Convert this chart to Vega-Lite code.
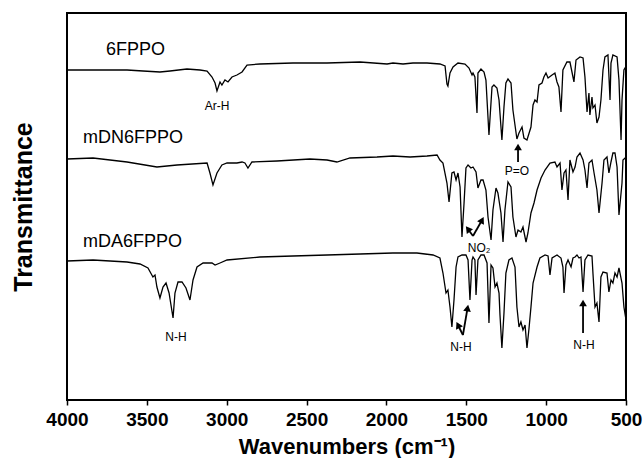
{
  "$schema": "https://vega.github.io/schema/vega-lite/v6.json",
  "width": 559,
  "height": 387,
  "autosize": {"type": "none"},
  "padding": {"left": 67, "top": 13, "right": 18, "bottom": 58},
  "background": "white",
  "config": {
    "view": {"stroke": "black", "strokeWidth": 2},
    "font": "Liberation Sans"
  },
  "datasets": {
    "spectra": [
      {"series": "6FPPO", "wn": 4000, "t": 330}, {"series": "6FPPO", "wn": 3837, "t": 330}, {"series": "6FPPO", "wn": 3624, "t": 330}, {"series": "6FPPO", "wn": 3524, "t": 329}, {"series": "6FPPO", "wn": 3418, "t": 328}, {"series": "6FPPO", "wn": 3355, "t": 329}, {"series": "6FPPO", "wn": 3249, "t": 331}, {"series": "6FPPO", "wn": 3167, "t": 330}, {"series": "6FPPO", "wn": 3123, "t": 329}, {"series": "6FPPO", "wn": 3092, "t": 323}, {"series": "6FPPO", "wn": 3073, "t": 317}, {"series": "6FPPO", "wn": 3061, "t": 309}, {"series": "6FPPO", "wn": 3042, "t": 318}, {"series": "6FPPO", "wn": 3030, "t": 315}, {"series": "6FPPO", "wn": 3011, "t": 320}, {"series": "6FPPO", "wn": 2992, "t": 318}, {"series": "6FPPO", "wn": 2967, "t": 323}, {"series": "6FPPO", "wn": 2936, "t": 325}, {"series": "6FPPO", "wn": 2904, "t": 328}, {"series": "6FPPO", "wn": 2873, "t": 335}, {"series": "6FPPO", "wn": 2792, "t": 336}, {"series": "6FPPO", "wn": 2585, "t": 337}, {"series": "6FPPO", "wn": 2372, "t": 337}, {"series": "6FPPO", "wn": 2165, "t": 338}, {"series": "6FPPO", "wn": 1996, "t": 336}, {"series": "6FPPO", "wn": 1959, "t": 337}, {"series": "6FPPO", "wn": 1896, "t": 336}, {"series": "6FPPO", "wn": 1834, "t": 337}, {"series": "6FPPO", "wn": 1746, "t": 337}, {"series": "6FPPO", "wn": 1665, "t": 336}, {"series": "6FPPO", "wn": 1633, "t": 334}, {"series": "6FPPO", "wn": 1621, "t": 316}, {"series": "6FPPO", "wn": 1615, "t": 314}, {"series": "6FPPO", "wn": 1602, "t": 327}, {"series": "6FPPO", "wn": 1583, "t": 333}, {"series": "6FPPO", "wn": 1552, "t": 337}, {"series": "6FPPO", "wn": 1508, "t": 336}, {"series": "6FPPO", "wn": 1483, "t": 332}, {"series": "6FPPO", "wn": 1464, "t": 325}, {"series": "6FPPO", "wn": 1458, "t": 327}, {"series": "6FPPO", "wn": 1446, "t": 323}, {"series": "6FPPO", "wn": 1433, "t": 287}, {"series": "6FPPO", "wn": 1427, "t": 327}, {"series": "6FPPO", "wn": 1408, "t": 331}, {"series": "6FPPO", "wn": 1389, "t": 328}, {"series": "6FPPO", "wn": 1377, "t": 320}, {"series": "6FPPO", "wn": 1358, "t": 265}, {"series": "6FPPO", "wn": 1339, "t": 313}, {"series": "6FPPO", "wn": 1327, "t": 315}, {"series": "6FPPO", "wn": 1308, "t": 312}, {"series": "6FPPO", "wn": 1295, "t": 300}, {"series": "6FPPO", "wn": 1277, "t": 260}, {"series": "6FPPO", "wn": 1264, "t": 293}, {"series": "6FPPO", "wn": 1252, "t": 317}, {"series": "6FPPO", "wn": 1239, "t": 321}, {"series": "6FPPO", "wn": 1220, "t": 317}, {"series": "6FPPO", "wn": 1208, "t": 290}, {"series": "6FPPO", "wn": 1183, "t": 261}, {"series": "6FPPO", "wn": 1170, "t": 267}, {"series": "6FPPO", "wn": 1151, "t": 273}, {"series": "6FPPO", "wn": 1139, "t": 262}, {"series": "6FPPO", "wn": 1120, "t": 260}, {"series": "6FPPO", "wn": 1095, "t": 273}, {"series": "6FPPO", "wn": 1082, "t": 295}, {"series": "6FPPO", "wn": 1070, "t": 300}, {"series": "6FPPO", "wn": 1057, "t": 298}, {"series": "6FPPO", "wn": 1045, "t": 315}, {"series": "6FPPO", "wn": 1026, "t": 317}, {"series": "6FPPO", "wn": 1014, "t": 323}, {"series": "6FPPO", "wn": 1001, "t": 327}, {"series": "6FPPO", "wn": 988, "t": 322}, {"series": "6FPPO", "wn": 963, "t": 325}, {"series": "6FPPO", "wn": 945, "t": 327}, {"series": "6FPPO", "wn": 932, "t": 318}, {"series": "6FPPO", "wn": 920, "t": 313}, {"series": "6FPPO", "wn": 907, "t": 288}, {"series": "6FPPO", "wn": 895, "t": 330}, {"series": "6FPPO", "wn": 870, "t": 338}, {"series": "6FPPO", "wn": 851, "t": 338}, {"series": "6FPPO", "wn": 832, "t": 323}, {"series": "6FPPO", "wn": 826, "t": 318}, {"series": "6FPPO", "wn": 813, "t": 340}, {"series": "6FPPO", "wn": 788, "t": 343}, {"series": "6FPPO", "wn": 769, "t": 342}, {"series": "6FPPO", "wn": 757, "t": 323}, {"series": "6FPPO", "wn": 744, "t": 288}, {"series": "6FPPO", "wn": 732, "t": 307}, {"series": "6FPPO", "wn": 726, "t": 285}, {"series": "6FPPO", "wn": 713, "t": 303}, {"series": "6FPPO", "wn": 707, "t": 292}, {"series": "6FPPO", "wn": 694, "t": 295}, {"series": "6FPPO", "wn": 682, "t": 277}, {"series": "6FPPO", "wn": 669, "t": 283}, {"series": "6FPPO", "wn": 657, "t": 300}, {"series": "6FPPO", "wn": 644, "t": 330}, {"series": "6FPPO", "wn": 632, "t": 343}, {"series": "6FPPO", "wn": 613, "t": 345}, {"series": "6FPPO", "wn": 600, "t": 300}, {"series": "6FPPO", "wn": 594, "t": 337}, {"series": "6FPPO", "wn": 582, "t": 345}, {"series": "6FPPO", "wn": 556, "t": 343}, {"series": "6FPPO", "wn": 544, "t": 320}, {"series": "6FPPO", "wn": 531, "t": 260}, {"series": "6FPPO", "wn": 525, "t": 300}, {"series": "6FPPO", "wn": 513, "t": 330}, {"series": "6FPPO", "wn": 506, "t": 332}, {"series": "6FPPO", "wn": 500, "t": 332},

      {"series": "mDN6FPPO", "wn": 4000, "t": 241}, {"series": "mDN6FPPO", "wn": 3837, "t": 242}, {"series": "mDN6FPPO", "wn": 3624, "t": 238}, {"series": "mDN6FPPO", "wn": 3437, "t": 233}, {"series": "mDN6FPPO", "wn": 3311, "t": 235}, {"series": "mDN6FPPO", "wn": 3123, "t": 237}, {"series": "mDN6FPPO", "wn": 3105, "t": 227}, {"series": "mDN6FPPO", "wn": 3086, "t": 215}, {"series": "mDN6FPPO", "wn": 3061, "t": 227}, {"series": "mDN6FPPO", "wn": 3030, "t": 235}, {"series": "mDN6FPPO", "wn": 2998, "t": 237}, {"series": "mDN6FPPO", "wn": 2936, "t": 237}, {"series": "mDN6FPPO", "wn": 2904, "t": 238}, {"series": "mDN6FPPO", "wn": 2886, "t": 237}, {"series": "mDN6FPPO", "wn": 2867, "t": 232}, {"series": "mDN6FPPO", "wn": 2842, "t": 238}, {"series": "mDN6FPPO", "wn": 2685, "t": 239}, {"series": "mDN6FPPO", "wn": 2479, "t": 241}, {"series": "mDN6FPPO", "wn": 2372, "t": 240}, {"series": "mDN6FPPO", "wn": 2310, "t": 238}, {"series": "mDN6FPPO", "wn": 2228, "t": 242}, {"series": "mDN6FPPO", "wn": 2059, "t": 243}, {"series": "mDN6FPPO", "wn": 1959, "t": 244}, {"series": "mDN6FPPO", "wn": 1852, "t": 243}, {"series": "mDN6FPPO", "wn": 1746, "t": 244}, {"series": "mDN6FPPO", "wn": 1683, "t": 245}, {"series": "mDN6FPPO", "wn": 1665, "t": 240}, {"series": "mDN6FPPO", "wn": 1646, "t": 237}, {"series": "mDN6FPPO", "wn": 1621, "t": 217}, {"series": "mDN6FPPO", "wn": 1608, "t": 198}, {"series": "mDN6FPPO", "wn": 1590, "t": 227}, {"series": "mDN6FPPO", "wn": 1577, "t": 228}, {"series": "mDN6FPPO", "wn": 1564, "t": 220}, {"series": "mDN6FPPO", "wn": 1552, "t": 227}, {"series": "mDN6FPPO", "wn": 1539, "t": 213}, {"series": "mDN6FPPO", "wn": 1527, "t": 163}, {"series": "mDN6FPPO", "wn": 1514, "t": 197}, {"series": "mDN6FPPO", "wn": 1502, "t": 232}, {"series": "mDN6FPPO", "wn": 1489, "t": 235}, {"series": "mDN6FPPO", "wn": 1471, "t": 232}, {"series": "mDN6FPPO", "wn": 1458, "t": 233}, {"series": "mDN6FPPO", "wn": 1439, "t": 228}, {"series": "mDN6FPPO", "wn": 1427, "t": 212}, {"series": "mDN6FPPO", "wn": 1408, "t": 220}, {"series": "mDN6FPPO", "wn": 1395, "t": 220}, {"series": "mDN6FPPO", "wn": 1377, "t": 210}, {"series": "mDN6FPPO", "wn": 1364, "t": 183}, {"series": "mDN6FPPO", "wn": 1345, "t": 160}, {"series": "mDN6FPPO", "wn": 1333, "t": 190}, {"series": "mDN6FPPO", "wn": 1314, "t": 212}, {"series": "mDN6FPPO", "wn": 1302, "t": 207}, {"series": "mDN6FPPO", "wn": 1283, "t": 187}, {"series": "mDN6FPPO", "wn": 1270, "t": 158}, {"series": "mDN6FPPO", "wn": 1258, "t": 190}, {"series": "mDN6FPPO", "wn": 1239, "t": 218}, {"series": "mDN6FPPO", "wn": 1220, "t": 213}, {"series": "mDN6FPPO", "wn": 1208, "t": 183}, {"series": "mDN6FPPO", "wn": 1189, "t": 163}, {"series": "mDN6FPPO", "wn": 1176, "t": 170}, {"series": "mDN6FPPO", "wn": 1158, "t": 168}, {"series": "mDN6FPPO", "wn": 1145, "t": 173}, {"series": "mDN6FPPO", "wn": 1126, "t": 158}, {"series": "mDN6FPPO", "wn": 1114, "t": 167}, {"series": "mDN6FPPO", "wn": 1095, "t": 187}, {"series": "mDN6FPPO", "wn": 1076, "t": 197}, {"series": "mDN6FPPO", "wn": 1057, "t": 210}, {"series": "mDN6FPPO", "wn": 1032, "t": 222}, {"series": "mDN6FPPO", "wn": 1007, "t": 230}, {"series": "mDN6FPPO", "wn": 976, "t": 237}, {"series": "mDN6FPPO", "wn": 945, "t": 238}, {"series": "mDN6FPPO", "wn": 932, "t": 233}, {"series": "mDN6FPPO", "wn": 913, "t": 237}, {"series": "mDN6FPPO", "wn": 901, "t": 210}, {"series": "mDN6FPPO", "wn": 888, "t": 227}, {"series": "mDN6FPPO", "wn": 876, "t": 230}, {"series": "mDN6FPPO", "wn": 863, "t": 200}, {"series": "mDN6FPPO", "wn": 851, "t": 240}, {"series": "mDN6FPPO", "wn": 832, "t": 228}, {"series": "mDN6FPPO", "wn": 819, "t": 233}, {"series": "mDN6FPPO", "wn": 807, "t": 243}, {"series": "mDN6FPPO", "wn": 788, "t": 247}, {"series": "mDN6FPPO", "wn": 769, "t": 240}, {"series": "mDN6FPPO", "wn": 757, "t": 230}, {"series": "mDN6FPPO", "wn": 744, "t": 212}, {"series": "mDN6FPPO", "wn": 732, "t": 237}, {"series": "mDN6FPPO", "wn": 713, "t": 240}, {"series": "mDN6FPPO", "wn": 700, "t": 227}, {"series": "mDN6FPPO", "wn": 682, "t": 210}, {"series": "mDN6FPPO", "wn": 669, "t": 187}, {"series": "mDN6FPPO", "wn": 650, "t": 217}, {"series": "mDN6FPPO", "wn": 638, "t": 240}, {"series": "mDN6FPPO", "wn": 619, "t": 243}, {"series": "mDN6FPPO", "wn": 607, "t": 227}, {"series": "mDN6FPPO", "wn": 594, "t": 238}, {"series": "mDN6FPPO", "wn": 582, "t": 247}, {"series": "mDN6FPPO", "wn": 569, "t": 247}, {"series": "mDN6FPPO", "wn": 556, "t": 233}, {"series": "mDN6FPPO", "wn": 544, "t": 185}, {"series": "mDN6FPPO", "wn": 525, "t": 217}, {"series": "mDN6FPPO", "wn": 519, "t": 240}, {"series": "mDN6FPPO", "wn": 506, "t": 242}, {"series": "mDN6FPPO", "wn": 500, "t": 240},

      {"series": "mDA6FPPO", "wn": 4000, "t": 139}, {"series": "mDA6FPPO", "wn": 3837, "t": 140}, {"series": "mDA6FPPO", "wn": 3624, "t": 138}, {"series": "mDA6FPPO", "wn": 3543, "t": 136}, {"series": "mDA6FPPO", "wn": 3493, "t": 132}, {"series": "mDA6FPPO", "wn": 3462, "t": 123}, {"series": "mDA6FPPO", "wn": 3449, "t": 125}, {"series": "mDA6FPPO", "wn": 3437, "t": 113}, {"series": "mDA6FPPO", "wn": 3418, "t": 102}, {"series": "mDA6FPPO", "wn": 3399, "t": 113}, {"series": "mDA6FPPO", "wn": 3380, "t": 117}, {"series": "mDA6FPPO", "wn": 3361, "t": 107}, {"series": "mDA6FPPO", "wn": 3336, "t": 82}, {"series": "mDA6FPPO", "wn": 3324, "t": 107}, {"series": "mDA6FPPO", "wn": 3305, "t": 118}, {"series": "mDA6FPPO", "wn": 3280, "t": 118}, {"series": "mDA6FPPO", "wn": 3255, "t": 112}, {"series": "mDA6FPPO", "wn": 3230, "t": 100}, {"series": "mDA6FPPO", "wn": 3211, "t": 120}, {"series": "mDA6FPPO", "wn": 3186, "t": 133}, {"series": "mDA6FPPO", "wn": 3148, "t": 137}, {"series": "mDA6FPPO", "wn": 3092, "t": 137}, {"series": "mDA6FPPO", "wn": 3073, "t": 135}, {"series": "mDA6FPPO", "wn": 3042, "t": 137}, {"series": "mDA6FPPO", "wn": 2998, "t": 140}, {"series": "mDA6FPPO", "wn": 2792, "t": 143}, {"series": "mDA6FPPO", "wn": 2585, "t": 144}, {"series": "mDA6FPPO", "wn": 2372, "t": 145}, {"series": "mDA6FPPO", "wn": 2165, "t": 146}, {"series": "mDA6FPPO", "wn": 1959, "t": 147}, {"series": "mDA6FPPO", "wn": 1809, "t": 147}, {"series": "mDA6FPPO", "wn": 1708, "t": 145}, {"series": "mDA6FPPO", "wn": 1665, "t": 142}, {"series": "mDA6FPPO", "wn": 1646, "t": 127}, {"series": "mDA6FPPO", "wn": 1627, "t": 107}, {"series": "mDA6FPPO", "wn": 1615, "t": 110}, {"series": "mDA6FPPO", "wn": 1602, "t": 93}, {"series": "mDA6FPPO", "wn": 1590, "t": 73}, {"series": "mDA6FPPO", "wn": 1577, "t": 100}, {"series": "mDA6FPPO", "wn": 1564, "t": 133}, {"series": "mDA6FPPO", "wn": 1552, "t": 143}, {"series": "mDA6FPPO", "wn": 1527, "t": 145}, {"series": "mDA6FPPO", "wn": 1502, "t": 145}, {"series": "mDA6FPPO", "wn": 1489, "t": 140}, {"series": "mDA6FPPO", "wn": 1477, "t": 100}, {"series": "mDA6FPPO", "wn": 1464, "t": 140}, {"series": "mDA6FPPO", "wn": 1458, "t": 143}, {"series": "mDA6FPPO", "wn": 1446, "t": 140}, {"series": "mDA6FPPO", "wn": 1439, "t": 105}, {"series": "mDA6FPPO", "wn": 1427, "t": 140}, {"series": "mDA6FPPO", "wn": 1408, "t": 145}, {"series": "mDA6FPPO", "wn": 1389, "t": 145}, {"series": "mDA6FPPO", "wn": 1370, "t": 137}, {"series": "mDA6FPPO", "wn": 1358, "t": 77}, {"series": "mDA6FPPO", "wn": 1345, "t": 135}, {"series": "mDA6FPPO", "wn": 1333, "t": 132}, {"series": "mDA6FPPO", "wn": 1320, "t": 113}, {"series": "mDA6FPPO", "wn": 1308, "t": 117}, {"series": "mDA6FPPO", "wn": 1295, "t": 107}, {"series": "mDA6FPPO", "wn": 1289, "t": 85}, {"series": "mDA6FPPO", "wn": 1277, "t": 52}, {"series": "mDA6FPPO", "wn": 1264, "t": 87}, {"series": "mDA6FPPO", "wn": 1252, "t": 127}, {"series": "mDA6FPPO", "wn": 1233, "t": 140}, {"series": "mDA6FPPO", "wn": 1214, "t": 142}, {"series": "mDA6FPPO", "wn": 1195, "t": 133}, {"series": "mDA6FPPO", "wn": 1183, "t": 93}, {"series": "mDA6FPPO", "wn": 1170, "t": 73}, {"series": "mDA6FPPO", "wn": 1158, "t": 78}, {"series": "mDA6FPPO", "wn": 1145, "t": 70}, {"series": "mDA6FPPO", "wn": 1132, "t": 75}, {"series": "mDA6FPPO", "wn": 1120, "t": 52}, {"series": "mDA6FPPO", "wn": 1107, "t": 72}, {"series": "mDA6FPPO", "wn": 1095, "t": 93}, {"series": "mDA6FPPO", "wn": 1082, "t": 117}, {"series": "mDA6FPPO", "wn": 1057, "t": 133}, {"series": "mDA6FPPO", "wn": 1039, "t": 142}, {"series": "mDA6FPPO", "wn": 1007, "t": 145}, {"series": "mDA6FPPO", "wn": 988, "t": 144}, {"series": "mDA6FPPO", "wn": 976, "t": 125}, {"series": "mDA6FPPO", "wn": 963, "t": 142}, {"series": "mDA6FPPO", "wn": 932, "t": 145}, {"series": "mDA6FPPO", "wn": 907, "t": 142}, {"series": "mDA6FPPO", "wn": 895, "t": 133}, {"series": "mDA6FPPO", "wn": 888, "t": 107}, {"series": "mDA6FPPO", "wn": 876, "t": 135}, {"series": "mDA6FPPO", "wn": 863, "t": 140}, {"series": "mDA6FPPO", "wn": 844, "t": 133}, {"series": "mDA6FPPO", "wn": 832, "t": 142}, {"series": "mDA6FPPO", "wn": 819, "t": 143}, {"series": "mDA6FPPO", "wn": 807, "t": 145}, {"series": "mDA6FPPO", "wn": 794, "t": 142}, {"series": "mDA6FPPO", "wn": 782, "t": 143}, {"series": "mDA6FPPO", "wn": 769, "t": 108}, {"series": "mDA6FPPO", "wn": 757, "t": 140}, {"series": "mDA6FPPO", "wn": 738, "t": 145}, {"series": "mDA6FPPO", "wn": 713, "t": 144}, {"series": "mDA6FPPO", "wn": 707, "t": 127}, {"series": "mDA6FPPO", "wn": 694, "t": 93}, {"series": "mDA6FPPO", "wn": 682, "t": 97}, {"series": "mDA6FPPO", "wn": 669, "t": 78}, {"series": "mDA6FPPO", "wn": 657, "t": 123}, {"series": "mDA6FPPO", "wn": 644, "t": 128}, {"series": "mDA6FPPO", "wn": 619, "t": 127}, {"series": "mDA6FPPO", "wn": 607, "t": 108}, {"series": "mDA6FPPO", "wn": 594, "t": 120}, {"series": "mDA6FPPO", "wn": 582, "t": 117}, {"series": "mDA6FPPO", "wn": 569, "t": 127}, {"series": "mDA6FPPO", "wn": 556, "t": 123}, {"series": "mDA6FPPO", "wn": 544, "t": 132}, {"series": "mDA6FPPO", "wn": 525, "t": 117}, {"series": "mDA6FPPO", "wn": 513, "t": 93}, {"series": "mDA6FPPO", "wn": 500, "t": 80}
    ],
    "names": [
      {"label": "6FPPO", "wn": 3756, "t": 350},
      {"label": "mDN6FPPO", "wn": 3900, "t": 262},
      {"label": "mDA6FPPO", "wn": 3900, "t": 158}
    ],
    "bands": [
      {"label": "Ar-H", "wn": 3061, "t": 294},
      {"label": "P=O", "wn": 1183, "t": 229},
      {"label": "NO₂", "wn": 1420, "t": 152},
      {"label": "N-H", "wn": 3318, "t": 63},
      {"label": "N-H", "wn": 1533, "t": 53},
      {"label": "N-H", "wn": 763, "t": 55}
    ],
    "arrows": [
      {"id": "po", "wn": 1176, "t": 238, "wn2": 1176, "t2": 253},
      {"id": "no2a", "wn": 1458, "t": 164, "wn2": 1490, "t2": 171},
      {"id": "no2b", "wn": 1458, "t": 164, "wn2": 1401, "t2": 180},
      {"id": "nha", "wn": 1521, "t": 65, "wn2": 1552, "t2": 75},
      {"id": "nhb", "wn": 1521, "t": 65, "wn2": 1492, "t2": 92},
      {"id": "nhc", "wn": 769, "t": 67, "wn2": 769, "t2": 97}
    ]
  },
  "encoding": {
    "x": {
      "field": "wn", "type": "quantitative",
      "scale": {"domain": [4000, 500], "nice": false, "zero": false},
      "axis": {
        "values": [4000, 3500, 3000, 2500, 2000, 1500, 1000, 500],
        "format": "d",
        "grid": false, "domain": false,
        "ticks": true, "tickSize": 5, "tickColor": "black", "tickWidth": 1.5,
        "labelFont": "Liberation Sans", "labelFontWeight": "bold", "labelFontSize": 19,
        "labelColor": "black", "labelPadding": 5, "labelFlush": false,
        "title": "Wavenumbers (cm⁻¹)",
        "titleFont": "Liberation Sans", "titleFontWeight": "bold", "titleFontSize": 22,
        "titleColor": "black", "titlePadding": 7
      }
    },
    "y": {
      "field": "t", "type": "quantitative",
      "scale": {"domain": [0, 387], "nice": false, "zero": false},
      "axis": {
        "grid": false, "domain": false, "ticks": false, "labels": false,
        "title": "Transmittance",
        "titleFont": "Liberation Sans", "titleFontWeight": "bold", "titleFontSize": 25,
        "titleColor": "black", "titlePadding": 31
      }
    }
  },
  "layer": [
    {
      "data": {"name": "spectra"},
      "mark": {"type": "line", "color": "black", "strokeWidth": 1.3, "interpolate": "linear"},
      "encoding": {"detail": {"field": "series", "type": "nominal"}}
    },
    {
      "data": {"name": "names"},
      "mark": {"type": "text", "align": "left", "baseline": "middle", "fontSize": 18, "font": "Liberation Sans", "color": "black"},
      "encoding": {"text": {"field": "label"}}
    },
    {
      "data": {"name": "bands"},
      "mark": {"type": "text", "align": "center", "baseline": "middle", "fontSize": 12, "font": "Liberation Sans", "color": "black"},
      "encoding": {"text": {"field": "label"}}
    },
    {
      "data": {"name": "arrows"},
      "mark": {"type": "rule", "color": "black", "strokeWidth": 1.8},
      "encoding": {"x2": {"field": "wn2"}, "y2": {"field": "t2"}}
    },
    {
      "data": {"name": "arrows"},
      "transform": [{"filter": "datum.id === 'po' || datum.id === 'nhc'"}],
      "mark": {"type": "point", "shape": "triangle-up", "filled": true, "color": "black", "size": 60, "opacity": 1, "angle": 0},
      "encoding": {"x": {"field": "wn2", "type": "quantitative"}, "y": {"field": "t2", "type": "quantitative"}}
    },
    {
      "data": {"name": "arrows"},
      "transform": [{"filter": "datum.id === 'no2a'"}],
      "mark": {"type": "point", "shape": "triangle-up", "filled": true, "color": "black", "size": 60, "opacity": 1, "angle": -37},
      "encoding": {"x": {"field": "wn2", "type": "quantitative"}, "y": {"field": "t2", "type": "quantitative"}}
    },
    {
      "data": {"name": "arrows"},
      "transform": [{"filter": "datum.id === 'no2b'"}],
      "mark": {"type": "point", "shape": "triangle-up", "filled": true, "color": "black", "size": 60, "opacity": 1, "angle": 28},
      "encoding": {"x": {"field": "wn2", "type": "quantitative"}, "y": {"field": "t2", "type": "quantitative"}}
    },
    {
      "data": {"name": "arrows"},
      "transform": [{"filter": "datum.id === 'nha'"}],
      "mark": {"type": "point", "shape": "triangle-up", "filled": true, "color": "black", "size": 60, "opacity": 1, "angle": -27},
      "encoding": {"x": {"field": "wn2", "type": "quantitative"}, "y": {"field": "t2", "type": "quantitative"}}
    },
    {
      "data": {"name": "arrows"},
      "transform": [{"filter": "datum.id === 'nhb'"}],
      "mark": {"type": "point", "shape": "triangle-up", "filled": true, "color": "black", "size": 60, "opacity": 1, "angle": 10},
      "encoding": {"x": {"field": "wn2", "type": "quantitative"}, "y": {"field": "t2", "type": "quantitative"}}
    }
  ]
}
